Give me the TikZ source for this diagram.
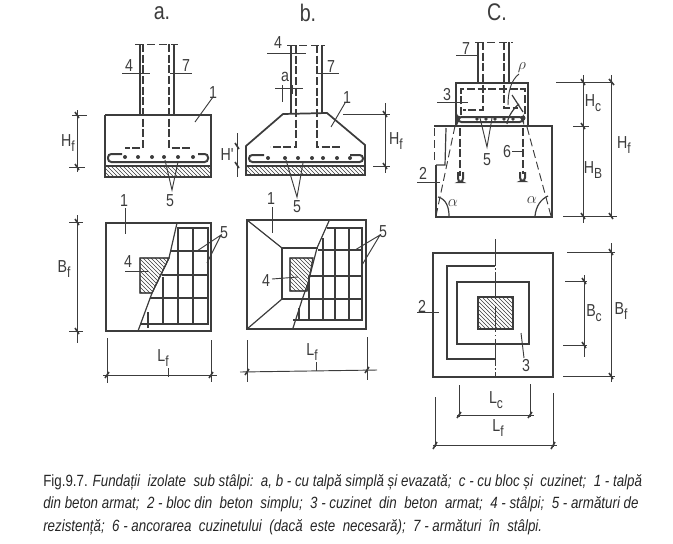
\documentclass[tikz,border=0pt]{standalone}
\usepackage{fontspec}
\setsansfont{Liberation Sans}
\newfontfamily\notefont[FakeStretch=0.82]{Liberation Sans}
\usepackage{xcolor}
\usepackage{tikz}
\usetikzlibrary{patterns}
\definecolor{ink}{HTML}{3C3C3C}
\tikzset{
  wall/.style={draw=ink,line width=1.3pt},
  thinwall/.style={draw=ink,line width=0.9pt},
  bar/.style={draw=ink,line width=1.5pt,rounded corners=2.5pt},
  grid/.style={draw=ink,line width=1.3pt},
  rebar/.style={draw=ink,line width=1.2pt,dash pattern=on 6pt off 2pt},
  faint/.style={draw=ink,line width=0.7pt,dash pattern=on 6pt off 3pt},
  leader/.style={draw=ink,line width=0.7pt},
  slash/.style={draw=ink,line width=1.2pt},
  hatched/.style={pattern=north west lines,pattern color=ink},
  tag/.style={inner sep=0pt,font=\notefont\fontsize{13}{14}\selectfont,text=ink},
  headline/.style={inner sep=0pt,font=\notefont\fontsize{18}{19}\selectfont,text=ink},
  note/.style={anchor=west,inner sep=0pt,text=black!85,font=\notefont\fontsize{12.2}{14}\selectfont}
}
\newcommand{\hnd}[2]{#1\raisebox{-3.5pt}{\fontsize{11}{12}\selectfont #2}}
\begin{document}
\begin{tikzpicture}[x=0.75pt,y=0.75pt,yscale=-1,xscale=1]
    \useasboundingbox (0,0) rectangle (673,543);

    % a - elevation
    \node[headline] (titleA) at (162,13) {a.};
    \draw[hatched] (105,166) rectangle (211,177);
    \draw[wall] (105,166) rectangle (211,177);
    \draw[wall] (105,115) -- (211,115) -- (211,166);
    \draw[wall] (105,115) -- (105,166);
    \draw[thinwall] (140,44) -- (140,115);
    \draw[thinwall] (174,44) -- (174,115);
    \draw[faint] (135,44) -- (178,44);
    \draw[rebar] (143,44) -- (143,148) -- (125,148);
    \draw[rebar] (169,44) -- (169,148) -- (190,148);
    \draw[bar] (122,154) -- (108,154) -- (108,162) -- (208,162) -- (208,154) -- (198,154);
    \fill[ink] (125,157) circle (2) (138,157) circle (2) (152,157) circle (2) (164,157) circle (2) (178,157) circle (2) (193,157) circle (2);
    \node[tag] (fourA) at (129,66) {4};
    \draw[leader] (122,73) -- (150,73);
    \node[tag] (sevenA) at (186,66) {7};
    \draw[leader] (170,73) -- (192,73);
    \node[tag] (oneA) at (213,93) {1};
    \draw[leader] (213,97) -- (195,122);
    \node[tag] (fiveA) at (170,201) {5};
    \draw[leader] (165,160) -- (172,190) -- (178,162);
    \draw[leader] (77,110) -- (77,172);
    \draw[leader] (72,115) -- (87,115);
    \draw[leader] (69,167) -- (85,167);
    \draw[slash] (75,112) -- (79,118);
    \draw[slash] (75,164) -- (79,170);
    \node[tag] (heightA) at (68,143) {\hnd{H}{f}};

    % b - elevation
    \node[headline] (titleB) at (308,13) {b.};
    \draw[hatched] (246,166) rectangle (365,175);
    \draw[wall] (246,166) rectangle (365,175);
    \draw[wall] (246,166) -- (246,146) -- (283,114) -- (327,113) -- (365,145) -- (365,166);
    \draw[thinwall] (291,45) -- (291,114);
    \draw[thinwall] (322,45) -- (322,113);
    \draw[faint] (287,45) -- (325,45);
    \draw[rebar] (296,45) -- (296,147) -- (270,147);
    \draw[rebar] (317,45) -- (317,147) -- (340,147);
    \draw[bar] (264,155) -- (249,155) -- (249,162) -- (363,162) -- (363,155) -- (350,155);
    \fill[ink] (268,158) circle (2) (285,158) circle (2) (298,158) circle (2) (312,158) circle (2) (323,158) circle (2) (337,158) circle (2) (350,158) circle (2);
    \node[tag] (fourB) at (278,43) {4};
    \draw[leader] (267,53) -- (306,53);
    \node[tag] (sevenB) at (331,67) {7};
    \draw[leader] (317,73) -- (339,73);
    \node[tag] (gapB) at (285,77) {a};
    \draw[leader] (275,88) -- (303,88);
    \draw[leader] (282,85) -- (282,102);
    \draw[leader] (292,85) -- (292,94);
    \node[tag] (oneB) at (347,98) {1};
    \draw[leader] (345,103) -- (331,127);
    \node[tag] (fiveB) at (297,207) {5};
    \draw[leader] (286,160) -- (297,197) -- (303,163);
    \draw[leader] (385,103) -- (385,173);
    \draw[leader] (343,114) -- (390,114);
    \draw[leader] (373,166) -- (390,166);
    \draw[slash] (383,111) -- (387,117);
    \draw[slash] (383,163) -- (387,169);
    \node[tag] (heightB) at (396,141) {\hnd{H}{f}};
    \draw[leader] (237,133) -- (237,177);
    \draw[slash] (235,143) -- (239,149);
    \draw[slash] (235,162) -- (239,168);
    \node[tag] (smallB) at (227,155) {H'};

    % c - elevation
    \node[headline] (titleC) at (497,12) {C.};
    \draw[wall] (436,165) -- (436,217) -- (552,217) -- (552,126) -- (434,126);
    \draw[thinwall] (446,128) -- (445,165) -- (436,165);
    \draw[faint] (434,128) -- (434,163);
    \draw[wall] (456,83) rectangle (528,126);
    \draw[thinwall] (478,42) -- (478,83);
    \draw[thinwall] (509,42) -- (509,83);
    \draw[faint] (475,42) -- (513,42);
    \draw[rebar] (483,42) -- (483,110) -- (463,110);
    \draw[rebar] (504,42) -- (504,108) -- (518,108);
    \draw[rebar] (461,115) -- (461,89) -- (525,89) -- (525,115);
    \draw[bar] (458,117) -- (523,117) -- (523,122) -- (458,122) -- cycle;
    \fill[ink] (458,118) circle (2.5) (477,119) circle (1.8) (486,119) circle (1.8) (495,119) circle (1.8) (504,119) circle (1.8) (513,119) circle (1.8) (523,118) circle (2.5);
    \draw[rebar] (460,128) -- (460,176);
    \draw[bar] (458,172) -- (458,182) -- (463,182) -- (463,172);
    \draw[rebar] (523,128) -- (523,174);
    \draw[bar] (520,172) -- (520,181) -- (525,181) -- (525,172);
    \draw[faint] (455,126) -- (436,216);
    \draw[faint] (527,127) -- (551,216);
    \draw[thinwall] (438,197) .. controls (446,199) and (449,207) .. (449,216);
    \draw[thinwall] (535,216) .. controls (536,206) and (541,199) .. (548,196);
    \draw[thinwall] (507,124) .. controls (508,116) and (514,108) .. (519,104);
    \draw[thinwall] (512,95) -- (523,112);
    \node[tag] (sevenC) at (466,49) {7};
    \draw[leader] (456,55) -- (479,55);
    \node[tag] (threeC) at (447,95) {3};
    \draw[leader] (437,102) -- (468,102);
    \node[tag] (fiveC) at (487,160) {5};
    \draw[leader] (480,118) -- (487,147) -- (492,118);
    \node[tag] (sixC) at (507,152) {6};
    \draw[leader] (512,151) -- (523,151);
    \node[tag] (twoC) at (423,173) {2};
    \draw[leader] (417,182) -- (440,182);
    \node[tag] (rhoC) at (522,68) {$\rho$};
    \draw[leader] (519,74) .. controls (511,80) and (508,92) .. (508,105);
    \node[tag] (alphaL) at (453,203) {$\alpha$};
    \node[tag] (alphaR) at (532,200) {$\alpha$};
    \draw[leader] (583,75) -- (583,223);
    \draw[leader] (611,75) -- (611,217);
    \draw[leader] (556,82) -- (613,82);
    \draw[leader] (573,126) -- (589,126);
    \draw[leader] (563,216) -- (617,216);
    \draw[slash] (581,79) -- (585,85);
    \draw[slash] (609,79) -- (614,85);
    \draw[slash] (581,123) -- (585,129);
    \draw[slash] (581,213) -- (585,219);
    \draw[slash] (609,213) -- (613,219);
    \node[tag] (heightC) at (593,103) {\hnd{H}{c}};
    \node[tag] (heightBl) at (593,170) {\hnd{H}{B}};
    \node[tag] (heightF) at (624,145) {\hnd{H}{f}};

    % a - plan
    \draw[wall] (106,223) rectangle (211,331);
    \draw[hatched] (140,258) -- (169,258) -- (152,293) -- (140,293) -- cycle;
    \draw[thinwall] (140,258) -- (169,258) -- (152,293) -- (140,293) -- cycle;
    \draw[thinwall] (177,223) -- (169,258) -- (152,293) -- (138,331);
    \draw[grid] (177,228) -- (208,228) -- (208,325);
    \draw[grid] (140,324) -- (208,324);
    \draw[grid] (170,251) -- (208,251);
    \draw[grid] (162,275) -- (208,275);
    \draw[grid] (150,298) -- (208,298);
    \draw[grid] (193,228) -- (193,325);
    \draw[grid] (178,228) -- (178,325);
    \draw[grid] (163,277) -- (163,325);
    \draw[grid] (148,312) -- (148,328);
    \node[tag] (fourPlanA) at (128,262) {4};
    \draw[leader] (125,271) -- (148,271);
    \node[tag] (onePlanA) at (124,201) {1};
    \draw[leader] (125,208) -- (125,234);
    \node[tag] (fivePlanA) at (224,233) {5};
    \draw[leader] (197,251) -- (221,235) -- (207,263);
    \draw[leader] (77,215) -- (77,343);
    \draw[leader] (69,222) -- (83,222);
    \draw[leader] (69,331) -- (83,331);
    \draw[slash] (75,219) -- (79,225);
    \draw[slash] (75,328) -- (79,334);
    \node[tag] (widthA) at (64,269) {\hnd{B}{f}};
    \draw[leader] (107,338) -- (107,383);
    \draw[leader] (211,340) -- (211,382);
    \draw[leader] (103,375) -- (217,375);
    \draw[leader] (168,368) -- (168,377);
    \draw[slash] (105,378) -- (109,372);
    \draw[slash] (209,378) -- (213,372);
    \node[tag] (lengthA) at (163,358) {\hnd{L}{f}};

    % b - plan
    \draw[wall] (247,220) rectangle (366,329);
    \draw[thinwall] (247,220) -- (282,248);
    \draw[thinwall] (247,329) -- (282,299);
    \draw[thinwall] (318,248) -- (282,248) -- (282,299) -- (303,299);
    \draw[hatched] (290,258) -- (313,258) -- (307,291) -- (290,291) -- cycle;
    \draw[thinwall] (290,258) -- (313,258) -- (307,291) -- (290,291) -- cycle;
    \draw[thinwall] (329,221) -- (317,248) -- (308,283) -- (302,300) -- (293,328);
    \draw[grid] (327,228) -- (362,228) -- (362,320) -- (293,320);
    \draw[grid] (318,250) -- (362,250);
    \draw[grid] (310,276) -- (362,276);
    \draw[grid] (303,299) -- (362,299);
    \draw[grid] (335,228) -- (335,320);
    \draw[grid] (349,228) -- (349,320);
    \draw[grid] (323,238) -- (323,320);
    \draw[grid] (309,276) -- (309,320);
    \draw[grid] (299,308) -- (299,320);
    \node[tag] (fourPlanB) at (266,281) {4};
    \draw[leader] (272,279) -- (298,277);
    \node[tag] (onePlanB) at (271,199) {1};
    \draw[leader] (272,207) -- (272,233);
    \node[tag] (fivePlanB) at (383,232) {5};
    \draw[leader] (355,250) -- (380,235) -- (362,265);
    \draw[leader] (247,340) -- (247,382);
    \draw[leader] (367,337) -- (367,380);
    \draw[leader] (240,372) -- (377,370);
    \draw[leader] (316,362) -- (316,371);
    \draw[slash] (245,375) -- (249,369);
    \draw[slash] (365,373) -- (369,367);
    \node[tag] (lengthB) at (312,352) {\hnd{L}{f}};

    % c - plan
    \draw[wall] (433,253) rectangle (553,377);
    \draw[thinwall] (495,266) -- (447,266) -- (447,359) -- (495,359);
    \draw[thinwall] (457,282) rectangle (529,344);
    \draw[hatched] (478,297) rectangle (513,329);
    \draw[wall] (478,297) rectangle (513,329);
    \draw[leader,dash pattern=on 20pt off 2pt on 1pt off 2pt] (495,239) -- (495,377);
    \node[tag] (twoPlanC) at (422,306) {2};
    \draw[leader] (417,312) -- (439,312);
    \node[tag] (threePlanC) at (526,366) {3};
    \draw[leader] (521,333) -- (524,358);
    \draw[leader] (584,275) -- (584,357);
    \draw[leader] (565,281) -- (587,281);
    \draw[leader] (563,345) -- (587,345);
    \draw[slash] (582,278) -- (586,284);
    \draw[slash] (582,342) -- (586,348);
    \node[tag] (widthC) at (594,313) {\hnd{B}{c}};
    \draw[leader] (611,243) -- (611,382);
    \draw[leader] (567,252) -- (615,252);
    \draw[leader] (563,376) -- (615,376);
    \draw[slash] (609,249) -- (613,255);
    \draw[slash] (609,373) -- (613,379);
    \node[tag] (widthF) at (621,311) {\hnd{B}{f}};
    \draw[leader] (459,385) -- (459,417);
    \draw[leader] (530,384) -- (530,417);
    \draw[leader] (457,415) -- (534,415);
    \draw[slash] (457,418) -- (461,412);
    \draw[slash] (528,418) -- (532,412);
    \node[tag] (lengthC) at (496,400) {\hnd{L}{c}};
    \draw[leader] (435,397) -- (435,447);
    \draw[leader] (553,393) -- (553,447);
    \draw[leader] (433,445) -- (557,445);
    \draw[slash] (433,449) -- (437,442);
    \draw[slash] (551,449) -- (555,442);
    \node[tag] (lengthF) at (498,428) {\hnd{L}{f}};

    % caption
    \node[note] (capOne) at (43,482) {Fig.9.7. \textit{Fundații\ \ izolate\ \ sub stâlpi:\ \ a, b - cu talpă simplă și evazată;\ \ c - cu bloc și\ \ cuzinet;\ \ 1 - talpă}};
    \node[note] (capTwo) at (43,504) {\textit{din beton armat;\ \ 2 - bloc din\ \ beton\ \ simplu;\ \ 3 - cuzinet\ \ din\ \ beton\ \ armat;\ \ 4 - stâlpi;\ \ 5 - armături de}};
    \node[note] (capThree) at (43,527) {\textit{rezistență;\ \ 6 - ancorarea\ \ cuzinetului\ \ (dacă\ \ este\ \ necesară);\ \ 7 - armături\ \ în\ \ stâlpi.}};
\end{tikzpicture}
\end{document}
